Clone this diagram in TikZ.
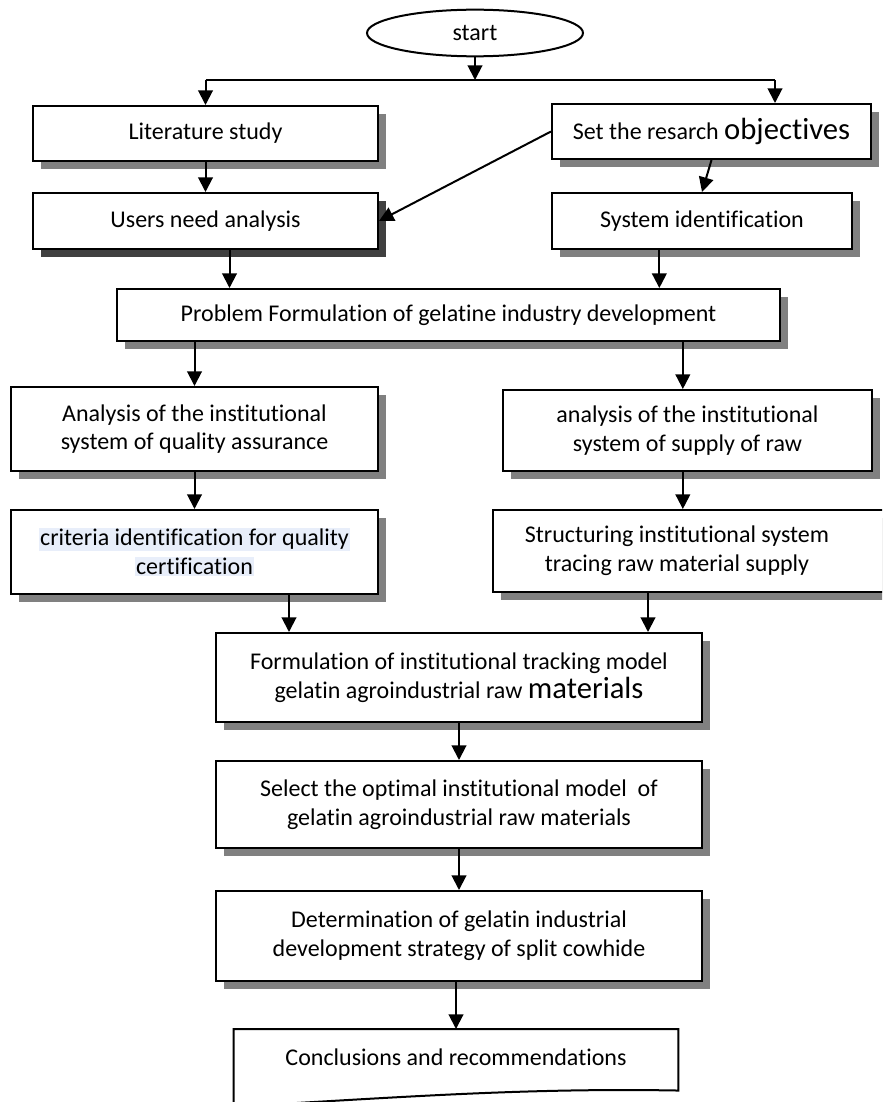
\documentclass[tikz,border=0pt]{standalone}
\usepackage{fontspec}
\setmainfont{Carlito}[Ligatures=NoCommon]
\usepackage{tikz}
\usetikzlibrary{arrows.meta,positioning,shapes.geometric,shadows}
\definecolor{hlblue}{RGB}{232,238,250}
\definecolor{shadegray}{RGB}{128,128,128}
\definecolor{shadedark}{RGB}{64,64,64}
\newcommand{\boxfont}{\fontsize{18}{21.5}\selectfont}
\newcommand{\bigword}[1]{{\fontsize{23}{21.5}\selectfont #1}}
\newcommand{\hl}[1]{{\setlength{\fboxsep}{0.8pt}\colorbox{hlblue}{#1}}}
\tikzset{
  stepbox/.style={draw, line width=1.5pt, fill=white, align=center, inner sep=2pt, font=\boxfont,
    drop shadow={shadow xshift=6pt, shadow yshift=-6pt, opacity=1, fill=shadegray}},
  darkstep/.style={stepbox, drop shadow={shadow xshift=6pt, shadow yshift=-6pt, opacity=1, fill=shadedark}},
  termbox/.style={draw, ellipse, line width=1.5pt, fill=white, minimum width=162pt, minimum height=35pt, inner sep=0pt, font=\boxfont},
  docbox/.style={align=center, inner sep=0pt, minimum width=333pt, minimum height=42pt, font=\boxfont},
  link/.style={line width=1.5pt},
  arrow/.style={-{Triangle[length=11pt,width=11pt]}, line width=1.5pt}
}
\begin{document}
\begin{tikzpicture}[x=0.75pt,y=-0.75pt]
  \useasboundingbox (0,0) rectangle (882,1102);
  \clip (0,0) rectangle (882,1102);
  \node[termbox] (start) at (475,33) {start};
  \node[stepbox,minimum width=258.75pt,minimum height=41.25pt] (lit) at (205.5,133.5) {Literature study};
  \node[stepbox,minimum width=239.25pt,minimum height=41.25pt] (obj) at (711.5,131.5) {Set the resarch \bigword{objectives}};
  \node[darkstep,minimum width=258.75pt,minimum height=42pt] (users) at (205.5,221) {Users need analysis};
  \node[stepbox,minimum width=225pt,minimum height=42pt] (sysid) at (702,221) {System identification};
  \node[stepbox,minimum width=497.25pt,minimum height=39pt] (prob) at (448.5,315) {Problem Formulation of gelatine industry development};
  \node[stepbox,minimum width=275.25pt,minimum height=63pt] (anaq) at (194.5,429) {Analysis of the institutional\\system of quality assurance};
  \node[stepbox,minimum width=276.75pt,minimum height=60.75pt] (anar) at (687.5,430.5) {analysis of the institutional\\system of supply of raw};
  \node[stepbox,minimum width=275.25pt,minimum height=63pt] (crit) at (194.5,552) {\hl{criteria identification for quality}\\\hl{certification}};
  \node[stepbox,anchor=west,minimum width=330pt,minimum height=61.5pt,
    label={[font=\boxfont,align=center,xshift=-27pt]center:Structuring institutional system\\tracing raw material supply}] (struct) at (492,551) {};
  \node[stepbox,minimum width=364.5pt,minimum height=66.75pt] (formu) at (459,677.5) {Formulation of institutional tracking model\\gelatin agroindustrial raw \bigword{materials}};
  \node[stepbox,minimum width=364.5pt,minimum height=65.25pt] (select) at (459,804.5) {Select the optimal institutional model\ \ of\\gelatin agroindustrial raw materials};
  \node[stepbox,minimum width=364.5pt,minimum height=67.5pt] (determ) at (459,936) {Determination of gelatin industrial\\development strategy of split cowhide};
  \node[docbox,anchor=north] (concl) at (456,1029) {Conclusions and recommendations};
  \draw[line width=1.5pt] (concl.north west) -- (concl.north east) -- ([yshift=-3.75pt]concl.south east)
    .. controls +(-160,-3) and +(150,-8) .. ([yshift=-15.75pt]concl.south west) -- cycle;
  \coordinate (split) at (476,80);
  \coordinate (splitL) at (205.5,80);
  \coordinate (splitR) at (775,80);
  \draw[link] (splitL) -- (splitR);
  \draw[arrow] (start.south) -- (start.south |- split);
  \draw[arrow] (splitL) -- (lit);
  \draw[arrow] (splitR) -- (splitR |- obj.north);
  \draw[arrow] (lit) -- (users);
  \draw[arrow] (obj.west) -- (users.east);
  \draw[arrow] (obj.south) -- (sysid.north);
  \draw[arrow] ([xshift=18pt]users.south) -- ([xshift=18pt]users.south |- prob.north);
  \draw[arrow] ([xshift=-32pt]sysid.south) -- ([xshift=-32pt]sysid.south |- prob.north);
  \draw[arrow] (anaq.north |- prob.south) -- (anaq.north);
  \draw[arrow] ([xshift=-3.5pt]anar.north |- prob.south) -- ([xshift=-3.5pt]anar.north);
  \draw[arrow] (anaq) -- (crit);
  \draw[arrow] ([xshift=-3.5pt]anar.south) -- ([xshift=-3.5pt]anar.south |- struct.north);
  \draw[arrow] ([xshift=-127.5pt]formu.north |- crit.south) -- ([xshift=-127.5pt]formu.north);
  \draw[arrow] ([xshift=141.75pt]formu.north |- struct.south) -- ([xshift=141.75pt]formu.north);
  \draw[arrow] (formu) -- (select);
  \draw[arrow] (select) -- (determ);
  \draw[arrow] (determ.south -| concl.north) -- (concl.north);
\end{tikzpicture}
\end{document}
